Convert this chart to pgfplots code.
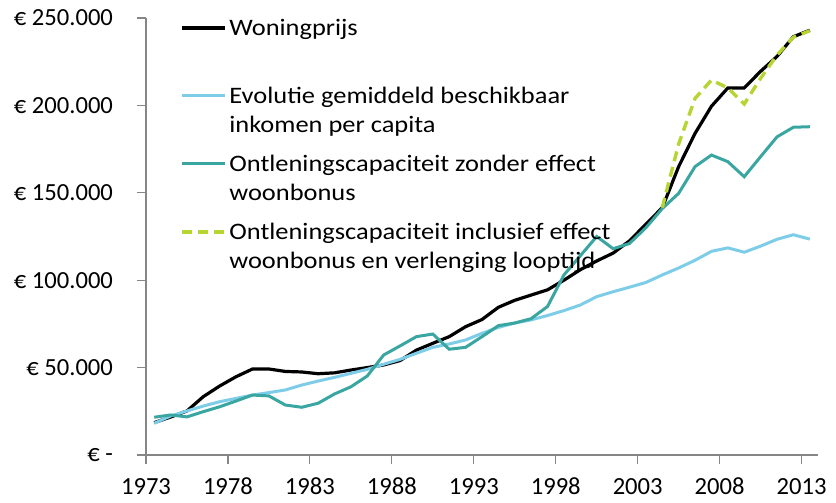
\documentclass[border=0pt]{standalone}
\usepackage{fontspec}
\setmainfont{Carlito}
\newfontfamily\legfont{Carlito}[FakeStretch=1.12]
\usepackage{pgfplots}
\pgfplotsset{compat=1.18}
\definecolor{clblue}{RGB}{125,205,232}
\definecolor{cteal}{RGB}{58,166,162}
\definecolor{cgreen}{RGB}{182,212,50}
\definecolor{caxis}{RGB}{134,134,134}

\pgfplotstableread{
year black lblue teal
1973 18500 18100 21600
1974 21700 22300 22900
1975 25200 25200 21800
1976 33400 28000 24800
1977 39500 30500 27600
1978 44800 32400 30900
1979 49200 34300 34300
1980 49200 35700 33800
1981 47800 37200 28600
1982 47500 40000 27300
1983 46500 42300 29600
1984 47000 44400 34900
1985 48600 46700 39000
1986 50000 49000 45200
1987 51500 51900 57200
1988 54000 54700 62400
1989 60000 58200 67700
1990 63900 61600 69200
1991 67700 63500 60500
1992 73400 65800 61600
1993 77500 69600 67700
1994 84500 73000 74000
1995 88500 75500 75500
1996 91500 77300 78000
1997 94500 79800 85000
1998 100000 82600 103000
1999 106000 85800 114000
2000 111000 90600 125000
2001 115500 93400 118000
2002 122500 96000 121000
2003 132000 98700 130000
2004 141500 103000 141000
2005 165000 107000 149700
2006 184000 111400 165000
2007 199500 116500 171600
2008 210000 118500 167800
2009 210000 116000 159200
2010 219500 119500 170700
2011 228000 123400 182000
2012 239300 126000 187500
2013 243000 123500 187800
}\maindata

\pgfplotstableread{
year incl
2004 141500
2005 178000
2006 204000
2007 214500
2008 210000
2009 200800
2010 215500
2011 228800
2012 239000
2013 242700
}\incldata

\begin{document}
\begin{tikzpicture}
\useasboundingbox (-73pt,-24pt) rectangle (345pt,227.5pt);
\begin{axis}[
  at={(0,0)}, anchor=south west,
  scale only axis, width=336pt, height=218.5pt,
  xmin=1972.5, xmax=2013.5, ymin=0, ymax=250000,
  axis lines=left,
  axis line style={-, draw=caxis, line width=0.6pt},
  tick align=outside,
  major tick length=4.5pt,
  tick style={draw=caxis, line width=0.6pt},
  xtick={1972.5,1977.5,1982.5,1987.5,1992.5,1997.5,2002.5,2007.5,2012.5},
  xticklabels={1973,1978,1983,1988,1993,1998,2003,2008,2013},
  ytick={0,50000,100000,150000,200000,250000},
  yticklabels={€ -\hspace{10pt}, € 50.000, € 100.000, € 150.000, € 200.000, € 250.000},
  ticklabel style={font=\fontsize{12.3}{14}\selectfont},
  yticklabel style={xshift=-8.5pt},
  xticklabel style={yshift=-3.5pt},
  scaled y ticks=false,
  clip=false,
  legend cell align=left,
  legend image code/.code={\draw[#1] (0pt,18.5pt) -- (21.5pt,18.5pt);},
  legend style={at={(axis description cs:0.05,1.008)}, anchor=north west,
    draw=none, fill=none, inner sep=0pt, row sep=0pt,
    cells={anchor=base west},
    font=\legfont\fontsize{11.8}{14.5}\selectfont,
    nodes={align=left, text height=23.5pt, text depth=7.5pt, inner sep=1.5pt}},
]
\addplot[black, line width=1.6pt] table[x=year, y=black] {\maindata};
\addlegendentry{Woningprijs\\\strut}
\addplot[clblue, line width=1.5pt] table[x=year, y=lblue] {\maindata};
\addlegendentry{Evolutie gemiddeld beschikbaar\\inkomen per capita}
\addplot[cteal, line width=1.5pt] table[x=year, y=teal] {\maindata};
\addlegendentry{Ontleningscapaciteit zonder effect\\woonbonus}
\addplot[cgreen, line width=1.7pt, dash pattern=on 5pt off 3pt] table[x=year, y=incl] {\incldata};
\addlegendentry{Ontleningscapaciteit inclusief effect\\woonbonus en verlenging looptijd}
\end{axis}
\end{tikzpicture}
\end{document}
